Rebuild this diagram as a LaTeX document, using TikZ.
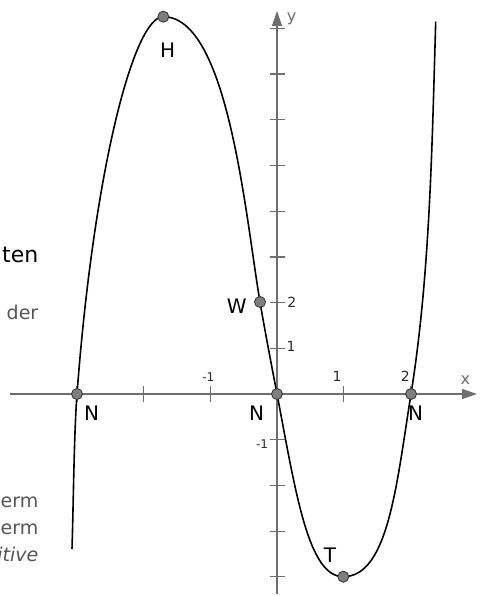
\documentclass[tikz,border=0pt]{standalone}
\usepackage{fontspec}
\setmainfont{DejaVu Sans}
\usetikzlibrary{arrows.meta}
\definecolor{axisgray}{HTML}{6E6E6E}
\definecolor{dotfill}{HTML}{7F7F7F}
\definecolor{dotline}{HTML}{3A3A3A}
\definecolor{textgray}{HTML}{555555}
\definecolor{ticklabel}{HTML}{2A2A2A}
\begin{document}
\begin{tikzpicture}[x=1pt,y=-1pt,
  axisline/.style={draw=axisgray,line width=1.3pt,-{Triangle[length=15pt,width=10pt]}},
  tickline/.style={draw=axisgray,line width=1.2pt},
  graph/.style={draw=black,line width=1.6pt,line join=round},
  pointdot/.style={circle,fill=dotfill,draw=dotline,line width=0.9pt,minimum size=11pt,inner sep=0pt},
  biglabel/.style={inner sep=0pt,font=\fontsize{20}{24}\selectfont},
  numlabel/.style={inner sep=0pt,text=ticklabel,font=\fontsize{14}{16}\selectfont},
  smallnum/.style={inner sep=0pt,text=ticklabel,font=\fontsize{12}{14}\selectfont},
  axislabel/.style={inner sep=0pt,text=axisgray,font=\fontsize{16}{18}\selectfont},
  sidetext/.style={inner sep=0pt,anchor=base east,text=textgray,font=\fontsize{19}{22}\selectfont},
]
\useasboundingbox (0,0) rectangle (484,596);

% axes
\coordinate (xa) at (10,394);
\coordinate (xb) at (477,394);
\coordinate (ya) at (277,594);
\coordinate (yb) at (277,11);
\draw[axisline] (xa) -- (xb);
\draw[axisline] (ya) -- (yb);

% ticks
\foreach \t in {77,143.6,210.3,343.7,410.4}
  \draw[tickline] (\t,386) -- (\t,402);
\foreach \t in {28.4,74.1,119.8,165.5,211.2,256.9,302.6,348.3,439.7,485.4,531.1,576.8}
  \draw[tickline] (269.5,\t) -- (284.5,\t);

% characteristic points (curve passes through them)
\coordinate (cS) at (72,549);
\coordinate (cN1) at (77,394);
\coordinate (cH) at (163.3,16.7);
\coordinate (cW) at (260,302);
\coordinate (cN2) at (277,394);
\coordinate (cT) at (343.3,576.7);
\coordinate (cN3) at (411,394);
\coordinate (cE) at (435.7,21.7);

% graph
\draw[graph] (cS)
  .. controls (73.5,500) and (74,434) .. (cN1)
  .. controls (93.5,174) and (133.3,16.7) .. (cH)
  .. controls (228.3,16.7) and (245.6,217) .. (cW)
  .. controls (265.1,332) and (271.3,364) .. (cN2)
  .. controls (296,494) and (308.3,576.7) .. (cT)
  .. controls (388.3,576.7) and (396.6,484) .. (cN3)
  .. controls (430.2,274) and (432.1,141.7) .. (cE);

% points
\node[pointdot] (ptH) at (cH) {};
\node[pointdot] (ptW) at (cW) {};
\node[pointdot] (ptN1) at (cN1) {};
\node[pointdot] (ptN2) at (cN2) {};
\node[pointdot] (ptN3) at (cN3) {};
\node[pointdot] (ptT) at (cT) {};

% point labels
\node[biglabel] (labH) at (167.7,50) {H};
\node[biglabel] (labW) at (236.7,306.7) {W};
\node[biglabel] (labN1) at (91.7,413) {N};
\node[biglabel] (labN2) at (256.7,413) {N};
\node[biglabel] (labN3) at (415.7,413) {N};
\node[biglabel] (labT) at (330,555) {T};

% axis numbers
\node[numlabel] (ny2) at (291.7,302) {2};
\node[numlabel] (ny1) at (291,346.7) {1};
\node[smallnum] (nym1) at (262,444) {-1};
\node[smallnum] (nxm1) at (208.3,376.7) {-1};
\node[numlabel] (nx1) at (337,376.7) {1};
\node[numlabel] (nx2) at (405.3,376.7) {2};
\node[axislabel] (lx) at (465.3,379.7) {x};
\node[axislabel] (ly) at (291.7,19) {y};

% clipped page text at the left edge
\node[sidetext,text=black,font=\fontsize{22}{26}\selectfont] (t1) at (38.5,262.7) {ten};
\node[sidetext] (t2) at (38.5,319.3) {der};
\node[sidetext] (t3) at (38.5,507) {erm};
\node[sidetext] (t4) at (38.5,534) {erm};
\node[sidetext,font=\fontsize{19}{22}\selectfont\itshape] (t5) at (38.5,561) {itive};
\end{tikzpicture}
\end{document}
